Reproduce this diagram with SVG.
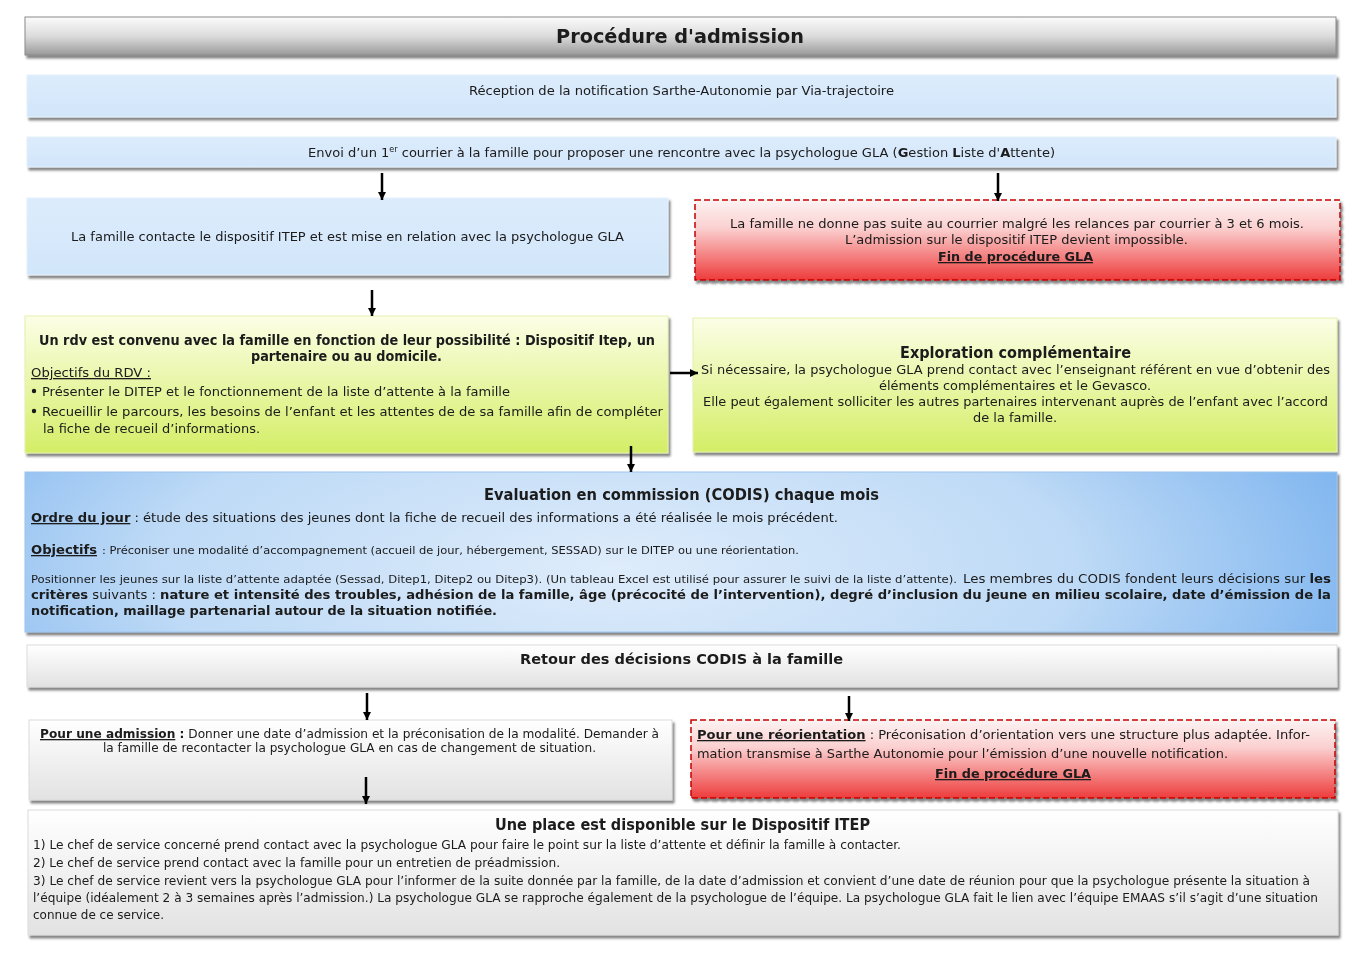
<svg xmlns="http://www.w3.org/2000/svg" width="1366" height="966" viewBox="0 0 1366 966">
<defs>
<style>
text{font-family:"DejaVu Sans Condensed","DejaVu Sans",Verdana,sans-serif;font-size:13px;fill:#1a1a1a}
.b{font-weight:bold}
.u{text-decoration:underline}
.s{font-size:11px}
.h{font-size:15px;font-weight:bold}
.c{text-anchor:middle}
.con{stroke:#000;stroke-width:2.5;fill:none}
.red{fill:url(#gRed);stroke:#c40000;stroke-width:1.5;stroke-dasharray:6 3}
</style>
<filter id="sh" x="-3%" y="-20%" width="106%" height="150%"><feDropShadow dx="2" dy="3" stdDeviation="1.3" flood-color="#333" flood-opacity="0.6"/></filter>
<linearGradient id="gTitle" x1="0" y1="0" x2="0" y2="1"><stop offset="0" stop-color="#fbfbfb"/><stop offset="0.5" stop-color="#dcdcdc"/><stop offset="1" stop-color="#9a9a9a"/></linearGradient>
<linearGradient id="gBlue" x1="0" y1="0" x2="0" y2="1"><stop offset="0" stop-color="#dcecfc"/><stop offset="1" stop-color="#d2e6fa"/></linearGradient>
<linearGradient id="gRed" x1="0" y1="0" x2="0" y2="1"><stop offset="0" stop-color="#fdf3f3"/><stop offset="0.35" stop-color="#fbd0d0"/><stop offset="1" stop-color="#ee3c3c"/></linearGradient>
<linearGradient id="gYel" x1="0" y1="0" x2="0" y2="1"><stop offset="0" stop-color="#fcfee6"/><stop offset="1" stop-color="#d4ee66"/></linearGradient>
<radialGradient id="gEval" cx="0.45" cy="0.6" r="0.7" gradientTransform="translate(0.45 0.6) scale(1 3) translate(-0.45 -0.6)"><stop offset="0" stop-color="#deecfb"/><stop offset="0.5" stop-color="#bedaf6"/><stop offset="1" stop-color="#62a4ec"/></radialGradient>
<linearGradient id="gGray" x1="0" y1="0" x2="0" y2="1"><stop offset="0" stop-color="#ffffff"/><stop offset="1" stop-color="#e2e2e2"/></linearGradient>
<marker id="ar" markerUnits="userSpaceOnUse" markerWidth="10" markerHeight="10" refX="8" refY="5" orient="auto"><path d="M0,1 L8,5 L0,9 z" fill="#000"/></marker>
</defs>

<g id="title" filter="url(#sh)">
<rect x="25" y="17" width="1311" height="38" fill="url(#gTitle)" stroke="#8a8a8a" stroke-width="1"/>
<text x="680" y="43" class="c b" style="font-size:20px" textLength="248" lengthAdjust="spacingAndGlyphs">Procédure d'admission</text>
</g>

<g id="reception" filter="url(#sh)">
<rect x="27" y="75" width="1309" height="42" fill="url(#gBlue)" stroke="#e6f0fa" stroke-width="1"/>
<text x="681.5" y="95" class="c" textLength="425" lengthAdjust="spacingAndGlyphs">Réception de la notification Sarthe-Autonomie par Via-trajectoire</text>
</g>

<g id="envoi" filter="url(#sh)">
<rect x="27" y="137" width="1309" height="30" fill="url(#gBlue)" stroke="#e6f0fa" stroke-width="1"/>
<text x="308" y="157" textLength="747" lengthAdjust="spacingAndGlyphs">Envoi d’un 1<tspan dy="-5" style="font-size:8px">er</tspan><tspan dy="5"> courrier à la famille pour proposer une rencontre avec la psychologue GLA (</tspan><tspan class="b">G</tspan>estion <tspan class="b">L</tspan>iste d'<tspan class="b">A</tspan>ttente)</text>
</g>

<g id="contact" filter="url(#sh)">
<rect x="27" y="198" width="641" height="77" fill="url(#gBlue)" stroke="#e6f0fa" stroke-width="1"/>
<text x="347.5" y="241" class="c" textLength="553" lengthAdjust="spacingAndGlyphs">La famille contacte le dispositif ITEP et est mise en relation avec la psychologue GLA</text>
</g>

<g id="nosuite" filter="url(#sh)">
<rect x="695" y="200" width="645" height="80" class="red"/>
<text x="1017" y="228" class="c" textLength="574" lengthAdjust="spacingAndGlyphs">La famille ne donne pas suite au courrier malgré les relances par courrier à 3 et 6 mois.</text>
<text x="1016.5" y="244" class="c" textLength="343" lengthAdjust="spacingAndGlyphs">L’admission sur le dispositif ITEP devient impossible.</text>
<text x="1015.5" y="261" class="c b u" textLength="155" lengthAdjust="spacingAndGlyphs">Fin de procédure GLA</text>
</g>

<g id="rdv" filter="url(#sh)">
<rect x="25" y="316" width="643" height="137" fill="url(#gYel)" stroke="#e4f0b0" stroke-width="1"/>
<text x="347" y="345" class="c b" style="font-size:13.5px" textLength="616" lengthAdjust="spacingAndGlyphs">Un rdv est convenu avec la famille en fonction de leur possibilité : Dispositif Itep, un</text>
<text x="346.5" y="361" class="c b" style="font-size:13.5px" textLength="191" lengthAdjust="spacingAndGlyphs">partenaire ou au domicile.</text>
<text x="31" y="377" class="u" textLength="120" lengthAdjust="spacingAndGlyphs">Objectifs du RDV :</text>
<circle cx="34" cy="391" r="2.2" fill="#1a1a1a"/>
<text x="42" y="396" textLength="468" lengthAdjust="spacingAndGlyphs">Présenter le DITEP et le fonctionnement de la liste d’attente à la famille</text>
<circle cx="34" cy="411" r="2.2" fill="#1a1a1a"/>
<text x="42" y="416" textLength="621" lengthAdjust="spacingAndGlyphs">Recueillir le parcours, les besoins de l’enfant et les attentes de de sa famille afin de compléter</text>
<text x="43" y="433" textLength="217" lengthAdjust="spacingAndGlyphs">la fiche de recueil d’informations.</text>
</g>

<g id="exploration" filter="url(#sh)">
<rect x="693" y="318" width="644" height="134" fill="url(#gYel)" stroke="#e4f0b0" stroke-width="1"/>
<text x="1015.5" y="358" class="c h" textLength="231" lengthAdjust="spacingAndGlyphs">Exploration complémentaire</text>
<text x="701" y="374" textLength="629" lengthAdjust="spacingAndGlyphs">Si nécessaire, la psychologue GLA prend contact avec l’enseignant référent en vue d’obtenir des</text>
<text x="1015" y="390" class="c" textLength="272" lengthAdjust="spacingAndGlyphs">éléments complémentaires et le Gevasco.</text>
<text x="703" y="406" textLength="625" lengthAdjust="spacingAndGlyphs">Elle peut également solliciter les autres partenaires intervenant auprès de l’enfant avec l’accord</text>
<text x="1015" y="422" class="c" textLength="84" lengthAdjust="spacingAndGlyphs">de la famille.</text>
</g>

<g id="evaluation" filter="url(#sh)">
<rect x="25" y="472" width="1312" height="160" fill="url(#gEval)" stroke="#9cc4ee" stroke-width="1"/>
<text x="681.5" y="500" class="c h" textLength="395" lengthAdjust="spacingAndGlyphs">Evaluation en commission (CODIS) chaque mois</text>
<text x="31" y="522" textLength="807" lengthAdjust="spacingAndGlyphs"><tspan class="b u">Ordre du jour</tspan> :  étude des situations des jeunes dont la fiche de recueil des informations a été réalisée le mois précédent.</text>
<text x="31" y="554" class="b u" textLength="66" lengthAdjust="spacingAndGlyphs">Objectifs</text>
<text x="102" y="554" class="s" textLength="697" lengthAdjust="spacingAndGlyphs">: Préconiser une modalité d’accompagnement (accueil de jour, hébergement, SESSAD) sur le DITEP ou une réorientation.</text>
<text x="31" y="583" class="s" textLength="926" lengthAdjust="spacingAndGlyphs">Positionner les jeunes sur la liste d’attente adaptée (Sessad, Ditep1, Ditep2 ou Ditep3). (Un tableau Excel est utilisé pour assurer le suivi de la liste d’attente).</text>
<text x="963" y="583" textLength="368" lengthAdjust="spacingAndGlyphs">Les membres du CODIS fondent leurs décisions sur <tspan class="b">les</tspan></text>
<text x="31" y="599" textLength="1300" lengthAdjust="spacingAndGlyphs"><tspan class="b">critères</tspan> suivants : <tspan class="b">nature et intensité des troubles, adhésion de la famille, âge (précocité de l’intervention), degré d’inclusion du jeune en milieu scolaire, date d’émission de la</tspan></text>
<text x="31" y="615" class="b" textLength="466" lengthAdjust="spacingAndGlyphs">notification, maillage partenarial autour de la situation notifiée.</text>
</g>

<g id="retour" filter="url(#sh)">
<rect x="27" y="645" width="1310" height="42" fill="url(#gGray)" stroke="#dcdcdc" stroke-width="1"/>
<text x="681.5" y="664" class="c b" style="font-size:14px" textLength="323" lengthAdjust="spacingAndGlyphs">Retour des décisions CODIS à la famille</text>
</g>

<g id="admission" filter="url(#sh)">
<rect x="29" y="720" width="643" height="80" fill="url(#gGray)" stroke="#dcdcdc" stroke-width="1"/>
<text x="40" y="738" textLength="619" lengthAdjust="spacingAndGlyphs"><tspan class="b u">Pour une admission</tspan><tspan class="b"> :</tspan> Donner une date d’admission et la préconisation de la modalité. Demander à</text>
<text x="349.5" y="752" class="c" textLength="493" lengthAdjust="spacingAndGlyphs">la famille de recontacter la psychologue GLA en cas de changement de situation.</text>
</g>

<g id="reorientation" filter="url(#sh)">
<rect x="691" y="720" width="644" height="78" class="red"/>
<text x="697" y="739" textLength="613" lengthAdjust="spacingAndGlyphs"><tspan class="b u">Pour une réorientation</tspan> : Préconisation d’orientation vers une structure plus adaptée. Infor-</text>
<text x="697" y="758" textLength="531" lengthAdjust="spacingAndGlyphs">mation transmise à Sarthe Autonomie pour l’émission d’une nouvelle notification.</text>
<text x="1013" y="778" class="c b u" textLength="156" lengthAdjust="spacingAndGlyphs">Fin de procédure GLA</text>
</g>

<g id="place" filter="url(#sh)">
<rect x="28" y="810" width="1310" height="125" fill="url(#gGray)" stroke="#dcdcdc" stroke-width="1"/>
<text x="682.5" y="830" class="c h" textLength="375" lengthAdjust="spacingAndGlyphs">Une place est disponible sur le Dispositif ITEP</text>
<text x="33" y="849" textLength="868" lengthAdjust="spacingAndGlyphs">1) Le chef de service concerné prend contact avec la psychologue GLA pour faire le point sur la liste d’attente et définir la famille à contacter.</text>
<text x="33" y="867" textLength="527" lengthAdjust="spacingAndGlyphs">2) Le chef de service prend contact avec la famille pour un entretien de préadmission.</text>
<text x="33" y="885" textLength="1277" lengthAdjust="spacingAndGlyphs">3) Le chef de service revient vers la psychologue GLA pour l’informer de la suite donnée par la famille, de la date d’admission et convient d’une date de réunion pour que la psychologue présente la situation à</text>
<text x="33" y="902" textLength="1285" lengthAdjust="spacingAndGlyphs">l’équipe (idéalement 2 à 3 semaines après l’admission.) La psychologue GLA se rapproche également de la psychologue de l’équipe. La psychologue GLA fait le lien avec l’équipe EMAAS s’il s’agit d’une situation</text>
<text x="33" y="919" textLength="131" lengthAdjust="spacingAndGlyphs">connue de ce service.</text>
</g>

<g id="connectors">
<line x1="382" y1="173" x2="382" y2="200" class="con" marker-end="url(#ar)"/>
<line x1="998" y1="173" x2="998" y2="201" class="con" marker-end="url(#ar)"/>
<line x1="372" y1="290" x2="372" y2="316" class="con" marker-end="url(#ar)"/>
<line x1="670" y1="373" x2="698" y2="373" class="con" marker-end="url(#ar)"/>
<line x1="631" y1="446" x2="631" y2="472" class="con" marker-end="url(#ar)"/>
<line x1="367" y1="693" x2="367" y2="720" class="con" marker-end="url(#ar)"/>
<line x1="849" y1="696" x2="849" y2="721" class="con" marker-end="url(#ar)"/>
<line x1="366" y1="777" x2="366" y2="804" class="con" marker-end="url(#ar)"/>
</g>
</svg>
